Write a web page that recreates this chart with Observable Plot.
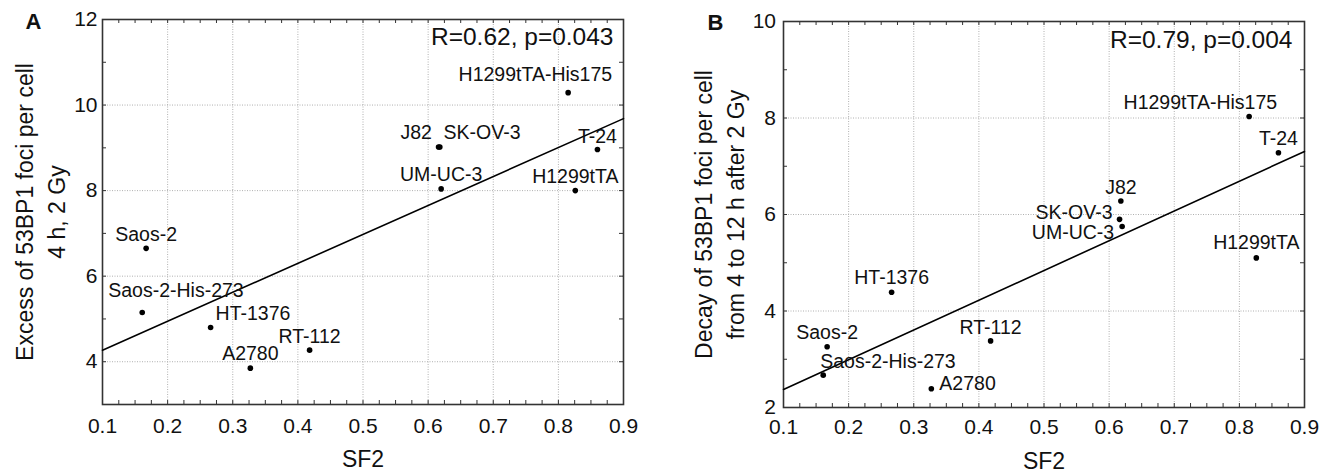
<!DOCTYPE html>
<html><head><meta charset="utf-8">
<script src="https://cdn.jsdelivr.net/npm/d3@7"></script>
<script src="https://cdn.jsdelivr.net/npm/@observablehq/plot@0.6"></script>
<style>
html,body{margin:0;padding:0;background:#fff;}
#wrap{display:flex;width:1331px;height:474px;overflow:hidden;}
#wrap svg{display:block;flex:none;}
</style></head><body><div id="wrap"></div>
<script>
// ---- data ----
const cellLines = ["Saos-2","Saos-2-His-273","HT-1376","A2780","RT-112","J82","SK-OV-3","UM-UC-3","H1299tTA-His175","T-24","H1299tTA"];
const sf2    = [0.167, 0.161, 0.266, 0.327, 0.418, 0.618, 0.616, 0.620, 0.815, 0.860, 0.826];
const excess = [6.65, 5.15, 4.80, 3.85, 4.27, 9.02, 9.02, 8.04, 10.29, 8.96, 8.00];
const decay  = [3.26, 2.67, 4.39, 2.39, 3.38, 6.28, 5.90, 5.75, 8.03, 7.28, 5.10];
const xTicks  = [0.1, 0.2, 0.3, 0.4, 0.5, 0.6, 0.7, 0.8, 0.9];
const yTicksA = [4, 6, 8, 10, 12];
const yTicksB = [2, 4, 6, 8, 10];
const xTitle = "SF2";
const yTitleA = "Excess of 53BP1 foci per cell\n4 h, 2 Gy";
const yTitleB = "Decay of 53BP1 foci per cell\nfrom 4 to 12 h after 2 Gy";
const statA = "R=0.62, p=0.043";
const statB = "R=0.79, p=0.004";

// ---- label layout (anchor, dx, dy) per cell line ----
const placeA = [["middle",0,-14],["start",-34,-22],["start",5,-14],["middle",0,-14],["middle",0,-13.5],["end",-8,-14],["start",5,-14],["middle",0,-14],["end",44,-18],["middle",0,-13],["middle",0,-14]];
const placeB = [["middle",0,-14],["start",-3,-13],["middle",0,-14],["start",8,-5],["middle",0,-13],["middle",0,-13],["end",-7,-7],["end",-8,6.5],["end",28,-14],["middle",0,-14],["middle",0,-15]];

const FONT = "'Liberation Sans', Arial, Helvetica, sans-serif";

function panel(c) {
  const data = cellLines.map((name, i) => ({name, x: sf2[i], y: c.values[i]}));
  const mx = d3.mean(data, d => d.x), my = d3.mean(data, d => d.y);
  const b = d3.sum(data, d => (d.x - mx) * (d.y - my)) / d3.sum(data, d => (d.x - mx) ** 2);
  const a = my - b * mx;
  const xDomain = [xTicks[0], xTicks[xTicks.length - 1]];
  const fit = xDomain.map(x => ({x, y: a + b * x}));
  const fw = c.width - c.ml - c.mr, fh = c.height - c.mt - c.mb;
  const xMinor = d3.range(0, 33).map(i => +(0.1 + i * 0.025).toFixed(3));
  const yMinor = d3.range(c.yDomain[0], c.yDomain[1] + 1);
  const grid = {stroke: "#b0b0b0", strokeOpacity: 1, strokeDasharray: "1,1.5", strokeWidth: 1};
  const tk = {stroke: "#333", strokeWidth: 1};
  const labels = data.map((d, i) => {
    const [anchor, dx, dy] = c.place[i];
    return Plot.text([d], {x: "x", y: "y", text: "name", textAnchor: anchor, dx, dy, fontSize: 19.5, lineAnchor: "middle"});
  });
  return Plot.plot({
    width: c.width, height: c.height,
    marginLeft: c.ml, marginRight: c.mr, marginTop: c.mt, marginBottom: c.mb,
    style: {fontFamily: FONT, background: "#fff", color: "#111"},
    x: {domain: xDomain, axis: null},
    y: {domain: c.yDomain, axis: null},
    marks: [
      Plot.ruleX(xTicks, grid),
      Plot.ruleY(c.yMajor, grid),
      Plot.tickX(xMinor, {x: d => d, insetTop: fh - 4, ...tk}),
      Plot.tickX(xMinor, {x: d => d, insetBottom: fh - 4, ...tk}),
      Plot.tickY(yMinor, {y: d => d, insetRight: fw - 4, ...tk}),
      Plot.tickY(yMinor, {y: d => d, insetLeft: fw - 4, ...tk}),
      Plot.frame({stroke: "#333", strokeWidth: 1.6}),
      Plot.line(fit, {x: "x", y: "y", stroke: "#000", strokeWidth: 1.6}),
      Plot.dot(data, {x: "x", y: "y", r: 2.8, fill: "#000"}),
      ...labels,
      Plot.text(xTicks, {x: d => d, frameAnchor: "bottom", dy: c.xtickDy, text: d => d.toFixed(1), fontSize: 21, lineAnchor: "middle"}),
      Plot.text(c.yMajor, {y: d => d, frameAnchor: "left", textAnchor: "end", dx: c.ytickDx, text: d => String(d), fontSize: 21, lineAnchor: "middle"}),
      Plot.text([xTitle], {frameAnchor: "bottom", dy: c.sfDy, fontSize: 23, lineAnchor: "middle"}),
      Plot.text([c.yTitle], {frameAnchor: "left", rotate: -90, dx: c.titleDx, fontSize: 23, lineHeight: 1.38, lineAnchor: "middle", textAnchor: "middle"}),
      Plot.text([c.letter], {frameAnchor: "top-left", dx: c.letterDx, dy: c.letterDy, fontSize: 22, fontWeight: "bold", textAnchor: "middle", lineAnchor: "middle"}),
      Plot.text([c.stat], {frameAnchor: "top-right", dx: c.statDx, dy: c.statDy, fontSize: 24.5, textAnchor: "end", lineAnchor: "middle"})
    ]
  });
}

const wrap = document.getElementById("wrap");
wrap.appendChild(panel({
  width: 665, height: 474, ml: 102, mr: 42, mt: 19, mb: 70,
  values: excess, yDomain: [3, 12], yMajor: yTicksA, yTitle: yTitleA, letter: "A", stat: statA,
  place: placeA, xtickDy: 21.5, ytickDx: -5, sfDy: 55, titleDx: -64, letterDx: -69, letterDy: 2, statDx: -10, statDy: 18
}));
wrap.appendChild(panel({
  width: 666, height: 474, ml: 118, mr: 27, mt: 21, mb: 67,
  values: decay, yDomain: [2, 10], yMajor: yTicksB, yTitle: yTitleB, letter: "B", stat: statB,
  place: placeB, xtickDy: 20, ytickDx: -7.5, sfDy: 54, titleDx: -66, letterDx: -68, letterDy: 1, statDx: -12, statDy: 19
}));
</script>
</body></html>
